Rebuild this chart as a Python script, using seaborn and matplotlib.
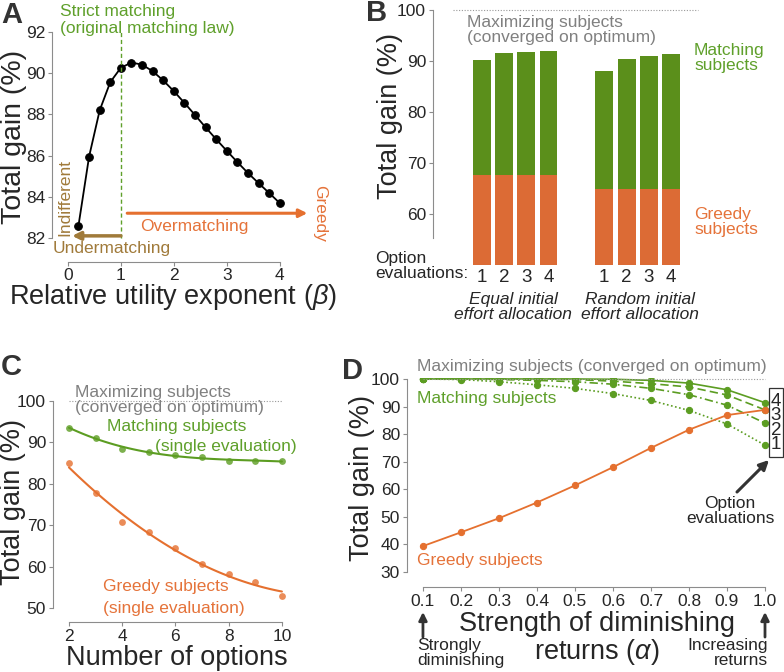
import matplotlib
matplotlib.use("Agg")
import matplotlib.pyplot as plt
from matplotlib.patches import Rectangle
import seaborn as sns

# ---- panel A: total gain vs relative utility exponent
BETA = [0.2, 0.4, 0.6, 0.8, 1.0, 1.2, 1.4, 1.6, 1.8, 2.0,
        2.2, 2.4, 2.6, 2.8, 3.0, 3.2, 3.4, 3.6, 3.8, 4.0]
GAIN_A = [82.6, 85.95, 88.2, 89.57, 90.27, 90.52, 90.42, 90.1, 89.65, 89.13,
          88.56, 87.97, 87.37, 86.79, 86.23, 85.68, 85.15, 84.66, 84.18, 83.69]

# ---- panel B: bars for option evaluations, two initial allocations
B_POS = [0, 1, 2, 3, 5.5, 6.5, 7.5, 8.5]
B_TICKS = ["1", "2", "3", "4", "1", "2", "3", "4"]
B_MATCHING = [90.2, 91.6, 91.8, 91.9, 88.1, 90.4, 91.05, 91.3]
B_GREEDY = [67.6, 67.6, 67.6, 67.6, 64.9, 64.9, 64.9, 64.9]

# ---- panel C: number of options
N_OPTIONS = [2, 3, 4, 5, 6, 7, 8, 9, 10]
C_MATCHING = [93.6, 91.1, 88.4, 87.8, 87.0, 86.4, 85.4, 85.6, 85.5]
C_GREEDY = [85.0, 77.7, 70.7, 68.3, 64.5, 60.5, 58.2, 56.3, 53.0]

# ---- panel D: strength of diminishing returns
ALPHA = [0.1, 0.2, 0.3, 0.4, 0.5, 0.6, 0.7, 0.8, 0.9, 1.0]
D_GREEDY = [39.4, 44.4, 49.5, 55.2, 61.4, 68.0, 75.0, 81.6, 86.9, 88.8]
D_MATCH_4 = [100.0, 100.0, 100.0, 100.0, 100.0, 99.9, 99.5, 98.5, 96.1, 91.4]
D_MATCH_3 = [100.0, 100.0, 100.0, 100.0, 99.8, 99.2, 98.3, 97.1, 94.2, 88.8]
D_MATCH_2 = [100.0, 100.0, 99.8, 99.5, 99.0, 98.1, 96.6, 94.3, 90.5, 84.0]
D_MATCH_1 = [100.0, 99.8, 99.0, 97.9, 96.6, 94.7, 92.2, 88.6, 83.7, 76.0]
EVAL_LABELS = ["4", "3", "2", "1"]

GREEN_BAR = "#5b8f1b"
ORANGE_BAR = "#dc6b35"
GREEN = "#5c9d22"
ORANGE = "#e5702f"
GREEN_TXT = "#5fa02b"
ORANGE_TXT = "#e5733a"
BROWN = "#a07a3a"
GRAY_TXT = "#808080"
SPINE = "#8c8c8c"
DARK = "#333333"

sns.set_style("ticks")
plt.rcParams["font.family"] = ["Liberation Sans", "DejaVu Sans"]
plt.rcParams["mathtext.fontset"] = "custom"
plt.rcParams["mathtext.rm"] = "Liberation Sans"
plt.rcParams["mathtext.it"] = "Liberation Sans:italic"

W, H = 784, 672
fig = plt.figure(figsize=(W / 100, H / 100), dpi=100)

ANNOT = 12.5
LABEL = 19.5
TICK = 12.5


def axes_px(left, top, right, bottom):
    return fig.add_axes([left / W, 1 - bottom / H, (right - left) / W, (bottom - top) / H])


def ftext(x, y, s, **kw):
    kw.setdefault("ha", "center")
    kw.setdefault("va", "center")
    return fig.text(x / W, 1 - y / H, s, **kw)


def style_axes(ax):
    for side in ("top", "right"):
        ax.spines[side].set_visible(False)
    for side in ("left", "bottom"):
        ax.spines[side].set_color(SPINE)
        ax.spines[side].set_linewidth(0.8)
    ax.tick_params(length=3, width=0.8, color=SPINE, labelsize=TICK, pad=2)
    ax.set_xlabel("")
    ax.set_ylabel("")


# ================= A =================
axA = axes_px(52, 28, 310, 262)
sns.lineplot(x=BETA, y=GAIN_A, ax=axA, color="black", linewidth=1.3,
             marker="o", markersize=5.5, markeredgecolor="black")
style_axes(axA)
axA.set_xlim(-0.3, 4.57)
axA.set_ylim(80.83, 92.2)
axA.spines["left"].set_bounds(82, 92)
axA.spines["bottom"].set_bounds(0, 4)
axA.set_xticks([0, 1, 2, 3, 4])
axA.set_yticks([82, 84, 86, 88, 90, 92])
axA.tick_params(axis="x", pad=1)
axA.vlines(1, 82, 92, colors=GREEN_TXT, linestyles=(0, (3, 2)), linewidth=1)
axA.annotate("", xy=(0.08, 82.1), xytext=(1.0, 82.1), annotation_clip=False,
             arrowprops=dict(arrowstyle="-|>", color=BROWN, lw=2.5, mutation_scale=12,
                             shrinkA=0, shrinkB=0))
axA.annotate("", xy=(4.52, 83.2), xytext=(1.12, 83.2), annotation_clip=False,
             arrowprops=dict(arrowstyle="-|>", color=ORANGE, lw=2.2, mutation_scale=12,
                             shrinkA=0, shrinkB=0))
ftext(60, 20, "Strict matching\n(original matching law)", ha="left", color=GREEN_TXT,
      fontsize=ANNOT, linespacing=1.2)
ftext(112, 248, "Undermatching", color=BROWN, fontsize=ANNOT)
ftext(65, 197, "Indifferent", color=BROWN, fontsize=ANNOT, rotation=90)
ftext(194, 227, "Overmatching", color=ORANGE_TXT, fontsize=ANNOT)
ftext(320, 213, "Greedy", color=ORANGE_TXT, fontsize=ANNOT, rotation=-90)
ftext(14, 137, "Total gain (%)", fontsize=20.5, rotation=90)
ftext(173, 297, r"Relative utility exponent $\mathit{(\beta)}$", fontsize=19.5)
ftext(12, 15, "A", fontsize=21, fontweight="bold", color=DARK)

# ================= B =================
axB = axes_px(433, 7.45, 700, 265)
sns.barplot(x=B_POS, y=B_MATCHING, native_scale=True, color=GREEN_BAR, saturation=1,
            width=0.8, linewidth=0, ax=axB)
sns.barplot(x=B_POS, y=B_GREEDY, native_scale=True, color=ORANGE_BAR, saturation=1,
            width=0.8, linewidth=0, ax=axB)
style_axes(axB)
axB.set_xlim(-2.18, 9.79)
axB.set_ylim(50, 100.5)
axB.spines["bottom"].set_visible(False)
axB.spines["left"].set_bounds(55.3, 100)
axB.set_yticks([60, 70, 80, 90, 100])
axB.set_xticks(B_POS, B_TICKS)
axB.tick_params(axis="x", length=0, labelsize=13.5, pad=3)
axB.hlines(100, -1.29, 9.7, colors="#999999", linestyles=(0, (1, 1.5)), linewidth=0.8)
ftext(467, 30, "Maximizing subjects\n(converged on optimum)", ha="left", color=GRAY_TXT,
      fontsize=ANNOT, linespacing=1.05)
ftext(694, 58, "Matching\nsubjects", ha="left", color=GREEN_TXT, fontsize=ANNOT, linespacing=1.05)
ftext(694, 222, "Greedy\nsubjects", ha="left", color=ORANGE_TXT, fontsize=ANNOT, linespacing=1.05)
ftext(375, 266, "Option\nevaluations:", ha="left", fontsize=ANNOT, linespacing=1.05)
ftext(513, 307, "Equal initial\neffort allocation", fontsize=ANNOT, style="italic",
      linespacing=1.05)
ftext(640, 307, "Random initial\neffort allocation", fontsize=ANNOT, style="italic",
      linespacing=1.05)
ftext(390, 116, "Total gain (%)", fontsize=LABEL, rotation=90)
ftext(377, 13, "B", fontsize=21, fontweight="bold", color=DARK)

# ================= C =================
axC = axes_px(53, 399, 300, 622)
sns.regplot(x=N_OPTIONS, y=C_MATCHING, order=3, ci=None, truncate=True, ax=axC,
            color=GREEN, scatter_kws=dict(s=24, linewidths=0), line_kws=dict(lw=1.5))
sns.regplot(x=N_OPTIONS, y=C_GREEDY, order=2, ci=None, truncate=True, ax=axC,
            color=ORANGE, scatter_kws=dict(s=24, linewidths=0, marker="s"), line_kws=dict(lw=1.5))
style_axes(axC)
axC.set_xlim(1.4, 10.68)
axC.set_ylim(46.6, 100.5)
axC.spines["left"].set_bounds(50, 100)
axC.spines["bottom"].set_bounds(2, 10)
axC.set_xticks([2, 4, 6, 8, 10])
axC.set_yticks([50, 60, 70, 80, 90, 100])
axC.hlines(100, 2, 10, colors="#999999", linestyles=(0, (1, 1.5)), linewidth=0.8)
ftext(75, 400, "Maximizing subjects\n(converged on optimum)", ha="left", color=GRAY_TXT,
      fontsize=ANNOT, linespacing=1.05)
ftext(177, 427, "Matching subjects", color=GREEN_TXT, fontsize=ANNOT)
ftext(155, 447, "(single evaluation)", ha="left", color=GREEN_TXT, fontsize=ANNOT)
ftext(103, 587, "Greedy subjects", ha="left", color=ORANGE_TXT, fontsize=ANNOT)
ftext(103, 608, "(single evaluation)", ha="left", color=ORANGE_TXT, fontsize=ANNOT)
ftext(13, 502, "Total gain (%)", fontsize=LABEL, rotation=90)
ftext(177, 658, "Number of options", fontsize=LABEL)
ftext(11, 367, "C", fontsize=21, fontweight="bold", color=DARK)

# ================= D =================
axD = axes_px(407, 377.6, 768, 587)
d_series = [(D_MATCH_4, "-"), (D_MATCH_3, (0, (5, 2.5))),
            (D_MATCH_2, (0, (5, 2, 1, 2))), (D_MATCH_1, (0, (1, 1.5)))]
for vals, ls in d_series:
    sns.lineplot(x=ALPHA, y=vals, ax=axD, color=GREEN, linewidth=1.2, linestyle=ls,
                 marker="o", markersize=4.5, markeredgecolor=GREEN)
sns.lineplot(x=ALPHA, y=D_GREEDY, ax=axD, color=ORANGE, linewidth=1.3,
             marker="o", markersize=4.5, markeredgecolor=ORANGE)
style_axes(axD)
axD.set_xlim(0.058, 1.0079)
axD.set_ylim(24.56, 100.5)
axD.spines["left"].set_bounds(30, 100)
axD.spines["bottom"].set_bounds(0.1, 1.0)
axD.set_xticks(ALPHA, [f"{a:.1f}" for a in ALPHA])
axD.set_yticks(range(30, 101, 10))
axD.hlines(100, 0.1, 1.0, colors="#999999", linestyles=(0, (1, 1.5)), linewidth=0.8)
for x_end in (0.1, 1.0):
    axD.annotate("", xy=(x_end, 15.5), xytext=(x_end, 6.4), annotation_clip=False,
                 arrowprops=dict(arrowstyle="-|>", color=DARK, lw=2, mutation_scale=12,
                                 shrinkA=0, shrinkB=0))
axD.annotate("", xy=(769, H - 460), xycoords="figure pixels", xytext=(737, H - 492),
             textcoords="figure pixels",
             arrowprops=dict(arrowstyle="-|>", color=DARK, lw=2.2, mutation_scale=14,
                             shrinkA=0, shrinkB=0))
fig.add_artist(Rectangle((768.5 / W, 1 - 457 / H), 14 / W, 69 / H, transform=fig.transFigure,
                         fill=False, lw=0.9, ec=DARK))
# the stacked evaluation counts in the box, as one text block
ftext(776, 423, "\n".join(EVAL_LABELS), fontsize=13.5, linespacing=0.8)
ftext(730, 511, "Option\nevaluations", fontsize=ANNOT, linespacing=1.0)
ftext(417, 367, "Maximizing subjects (converged on optimum)", ha="left", color=GRAY_TXT,
      fontsize=ANNOT)
ftext(417, 399, "Matching subjects", ha="left", color=GREEN_TXT, fontsize=ANNOT)
ftext(417, 561, "Greedy subjects", ha="left", color=ORANGE_TXT, fontsize=ANNOT)
ftext(417, 653, "Strongly\ndiminishing", ha="left", fontsize=ANNOT, linespacing=0.95)
ftext(768, 653, "Increasing\nreturns", ha="right", fontsize=ANNOT, linespacing=0.95,
      multialignment="right")
ftext(597, 624, "Strength of diminishing", fontsize=LABEL)
ftext(597, 652, r"returns $\mathit{(\alpha)}$", fontsize=LABEL)
ftext(362, 478, "Total gain (%)", fontsize=LABEL, rotation=90)
ftext(352, 371, "D", fontsize=21, fontweight="bold", color=DARK)

fig.savefig("out.png", dpi=100)
